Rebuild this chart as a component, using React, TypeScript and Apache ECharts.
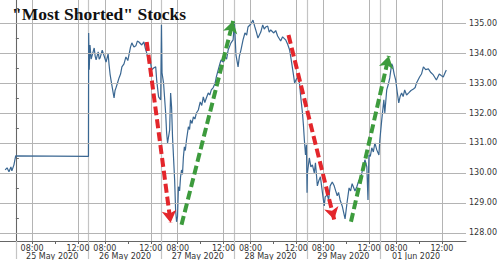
import React, { useEffect, useRef } from "react";
import * as echarts from "echarts";

// ---- session layout (trading-time axis, gaps between sessions removed) ----
const SESSION_OPEN = "06:35";
const SESSION_MINUTES = 381;

const dayNames = ["25 May 2020", "26 May 2020", "27 May 2020", "28 May 2020", "29 May 2020", "01 Jun 2020"];
const gridTimes = ["08:00", "12:00"];
const tickTimes = ["08:00", "10:00", "12:00"];
const dateLabelTime = "09:45";
const axisStart: [number, string] = [-1, "11:33"];
const axisEnd: [number, string] = [5, "14:06"];

const priceTicks = [128, 129, 130, 131, 132, 133, 134, 135];
const priceMinorTicks = [128, 128.5, 129, 129.5, 130, 130.5, 131, 131.5, 132, 132.5, 133, 133.5, 134, 134.5, 135, 135.5];
const priceMin = 127.73;
const priceMax = 135.77;
const lastPrice = 133.43;

// ---- price series, per session: [time, price] ----
const may22: [string, number][] = [
  ["12:00", 130.1], ["12:10", 130.17], ["12:20", 130.04], ["12:30", 130.2], ["12:35", 130.07],
  ["12:46", 130.27], ["12:51", 130.44], ["12:55", 130.57],
];
const may25: [string, number][] = [["06:35", 130.55], ["12:55", 130.55]];
const may26: [string, number][] = [
  ["06:35", 134.67], ["06:38", 133.44], ["06:42", 134.27], ["06:48", 133.8], ["06:54", 133.94], ["07:04", 134.17],
  ["07:09", 133.9], ["07:14", 133.77], ["07:25", 134.04], ["07:30", 133.8], ["07:35", 133.84], ["07:46", 134.1],
  ["07:56", 133.9], ["08:06", 133.7], ["08:17", 133.97], ["08:22", 133.6], ["08:27", 133.3], ["08:32", 133.1],
  ["08:40", 132.8], ["08:48", 132.5], ["08:53", 132.75], ["08:58", 132.84], ["09:06", 133.0], ["09:14", 133.17],
  ["09:22", 133.3], ["09:29", 133.54], ["09:40", 133.64], ["09:50", 133.87], ["10:00", 133.75], ["10:06", 133.94],
  ["10:14", 134.2], ["10:21", 134.34], ["10:32", 134.2], ["10:42", 134.24], ["10:50", 134.4], ["10:58", 134.37],
  ["11:13", 134.27], ["11:24", 134.37], ["11:32", 134.15], ["11:39", 134.0], ["11:50", 133.7], ["12:00", 133.64],
  ["12:05", 133.44], ["12:15", 133.5], ["12:26", 133.54], ["12:31", 133.1], ["12:41", 132.54], ["12:52", 132.44],
];
const may27: [string, number][] = [
  ["06:35", 134.94], ["06:38", 133.34], ["06:46", 133.0], ["06:57", 132.0], ["07:02", 131.34],
  ["07:07", 131.0], ["07:18", 131.44], ["07:23", 132.67], ["07:28", 132.2], ["07:33", 131.2],
  ["07:44", 129.77], ["07:49", 128.77], ["07:54", 128.37], ["07:59", 128.54], ["08:04", 129.54],
  ["08:10", 129.4], ["08:15", 129.87], ["08:20", 130.1], ["08:25", 129.95], ["08:30", 130.54], ["08:35", 130.87],
  ["08:40", 130.75], ["08:46", 131.1], ["08:56", 131.54], ["09:02", 131.45], ["09:07", 131.77], ["09:15", 131.65],
  ["09:22", 131.87], ["09:30", 131.8], ["09:38", 132.0], ["09:48", 132.1], ["09:58", 132.37], ["10:06", 132.25],
  ["10:14", 132.54], ["10:22", 132.35], ["10:30", 132.5], ["10:40", 132.67], ["10:48", 132.6], ["10:56", 132.77],
  ["11:06", 132.85], ["11:16", 133.0], ["11:22", 133.2], ["11:32", 133.44], ["11:42", 133.67], ["11:47", 133.77],
  ["11:58", 133.7], ["12:08", 133.87], ["12:16", 133.8], ["12:24", 134.1], ["12:39", 134.34], ["12:50", 134.44],
];
const may28: [string, number][] = [
  ["06:36", 135.04], ["06:44", 133.94], ["06:55", 133.54], ["07:02", 133.9], ["07:10", 134.1], ["07:21", 134.44],
  ["07:31", 134.67], ["07:40", 134.6], ["07:47", 134.87], ["08:02", 134.97], ["08:13", 135.1], ["08:23", 134.87],
  ["08:31", 134.7], ["08:39", 134.5], ["08:54", 134.7], ["09:04", 134.94], ["09:12", 134.8], ["09:20", 134.87],
  ["09:30", 134.9], ["09:38", 134.7], ["09:46", 134.77], ["10:02", 134.67], ["10:12", 134.75], ["10:22", 134.57],
  ["10:38", 134.4], ["10:48", 134.54], ["11:04", 134.44], ["11:14", 134.3], ["11:25", 134.1], ["11:35", 133.7],
  ["11:45", 133.27], ["11:51", 133.0], ["12:01", 133.14], ["12:11", 133.2], ["12:17", 132.97], ["12:22", 132.6],
  ["12:32", 132.0], ["12:37", 131.6], ["12:42", 131.1], ["12:48", 130.6], ["12:53", 130.94],
];
const may29: [string, number][] = [
  ["06:35", 129.34], ["06:37", 130.0], ["06:47", 130.5], ["06:55", 130.2], ["07:03", 130.27], ["07:13", 130.0],
  ["07:19", 130.34], ["07:29", 129.57], ["07:37", 129.75], ["07:45", 129.87], ["07:55", 129.37], ["08:05", 128.9],
  ["08:10", 129.2], ["08:21", 129.27], ["08:28", 129.1], ["08:36", 129.57], ["08:47", 129.7], ["08:57", 129.57],
  ["09:05", 129.4], ["09:13", 129.24], ["09:20", 129.35], ["09:28", 129.1], ["09:39", 128.9], ["09:54", 128.47],
  ["10:05", 129.04], ["10:15", 129.5], ["10:23", 129.4], ["10:31", 129.64], ["10:46", 129.4], ["10:56", 129.55],
  ["11:07", 129.77], ["11:15", 129.7], ["11:23", 130.04], ["11:30", 130.2], ["11:38", 130.44], ["11:48", 130.2],
  ["11:54", 129.1], ["11:59", 130.6], ["12:06", 130.55], ["12:14", 130.84], ["12:22", 130.7], ["12:30", 131.0],
  ["12:40", 130.77], ["12:51", 130.6],
];
const jun01: [string, number][] = [
  ["06:35", 131.1], ["06:45", 131.77], ["06:56", 132.44], ["07:01", 132.0], ["07:11", 132.77],
  ["07:19", 132.95], ["07:27", 133.17], ["07:37", 133.64], ["07:42", 133.57], ["07:50", 133.3], ["07:58", 133.1],
  ["08:06", 132.7], ["08:14", 132.34], ["08:21", 132.55], ["08:29", 132.67], ["08:37", 132.55], ["08:45", 132.77],
  ["08:55", 132.6], ["09:06", 132.67], ["09:18", 132.75], ["09:31", 132.8], ["09:40", 132.85], ["09:47", 133.0],
  ["10:03", 133.2], ["10:13", 133.3], ["10:23", 133.54], ["10:35", 133.45], ["10:49", 133.47], ["11:02", 133.35],
  ["11:15", 133.27], ["11:31", 133.1], ["11:46", 133.3], ["11:56", 133.25], ["12:07", 133.2], ["12:18", 133.37],
  ["12:23", 133.43],
];
const sessions: [number, [string, number][]][] = [
  [-1, may22], [0, may25], [1, may26], [2, may27], [3, may28], [4, may29], [5, jun01],
];

// ---- annotation arrows: [day, time, price] start -> end ----
type Pt = [number, string, number];
const redArrows: [Pt, Pt][] = [
  [[1, "11:39", 134.37], [2, "07:23", 128.34]],
  [[3, "11:19", 134.6], [4, "08:57", 128.45]],
];
const greenArrows: [Pt, Pt][] = [
  [[2, "08:20", 128.27], [2, "12:50", 135.07]],
  [[4, "10:25", 128.37], [5, "07:22", 133.9]],
];

const mins = (t: string) => {
  const [h, m] = t.split(":").map(Number);
  return h * 60 + m;
};
const OPEN = mins(SESSION_OPEN);
const toX = (day: number, t: string) => day * SESSION_MINUTES + mins(t) - OPEN;
const fmtTime = (v: number) => {
  const within = ((Math.round(v) % SESSION_MINUTES) + SESSION_MINUTES) % SESSION_MINUTES;
  const m = within + OPEN;
  const h = Math.floor(m / 60);
  const mm = m % 60;
  return `${String(h).padStart(2, "0")}:${String(mm).padStart(2, "0")}`;
};

export default function App() {
  const ref = useRef<HTMLDivElement>(null);
  useEffect(() => {
    if (!ref.current) return;
    const chart = echarts.init(ref.current, undefined, { renderer: "svg" });

    const lineData: [number, number][] = [];
    sessions.forEach(([d, arr]) => arr.forEach(([t, p]) => lineData.push([toX(d, t), p])));

    const dayIdx = dayNames.map((_, i) => i);
    const gridX = dayIdx.flatMap((d) => gridTimes.map((t) => toX(d, t)));
    const tickX = dayIdx.flatMap((d) => tickTimes.map((t) => toX(d, t)));
    const boundX = dayIdx.map((d) => d * SESSION_MINUTES);
    const dateX = dayIdx.map((d) => toX(d, dateLabelTime));
    const xMin = toX(axisStart[0], axisStart[1]);
    const xMax = toX(axisEnd[0], axisEnd[1]);

    const gridColor = "#b4b4b4";
    const gridSplit = { show: true, lineStyle: { color: gridColor, type: "solid", width: 1 } };
    const fontBase = { fontSize: 8, fontFamily: "DejaVu Sans", color: "#333" };

    const hGrid: any[] = priceTicks.map((y) => [
      { coord: [xMin, y], lineStyle: { color: gridColor, type: "solid", width: 1 } },
      { coord: [xMax, y] },
    ]);

    const arrowItem = (a: [Pt, Pt], color: string) => [
      { coord: [toX(a[0][0], a[0][1]), a[0][2]], lineStyle: { color, width: 4, type: [9, 4] } },
      { coord: [toX(a[1][0], a[1][1]), a[1][2]] },
    ];

    chart.setOption({
      animation: false,
      backgroundColor: "#ffffff",
      title: {
        text: '"Most Shorted" Stocks',
        left: 12,
        top: 5,
        padding: 0,
        textStyle: { fontFamily: "Liberation Serif", fontWeight: "bold", fontSize: 17.5, color: "#111" },
      },
      grid: { left: 0, right: 30, top: 0, bottom: 18 },
      xAxis: [
        {
          type: "value",
          min: xMin,
          max: xMax,
          position: "bottom",
          axisLine: { show: true, lineStyle: { color: "#666", width: 1 } },
          axisTick: { show: true, customValues: tickX, length: 3, lineStyle: { color: "#666" } },
          axisLabel: { ...fontBase, customValues: gridX, formatter: (v: number) => fmtTime(v), margin: 3 },
          splitLine: { show: false },
        },
        {
          type: "value",
          min: xMin,
          max: xMax,
          position: "bottom",
          axisLine: { show: false },
          axisTick: { show: true, customValues: boundX, length: 18, lineStyle: { color: "#c4c4c4", width: 1.2 } },
          axisLabel: {
            ...fontBase,
            customValues: dateX,
            formatter: (v: number) => dayNames[Math.floor(v / SESSION_MINUTES)] ?? "",
            margin: 11,
          },
          splitLine: { show: true, lineStyle: { color: "#c4c4c4", type: "solid", width: 1.2 } },
        },
        {
          type: "value",
          min: xMin,
          max: xMax,
          position: "top",
          axisLine: { show: false },
          axisTick: { show: false, customValues: gridX },
          axisLabel: { show: false },
          splitLine: gridSplit,
        },
      ],
      yAxis: [
        {
          type: "value",
          position: "right",
          min: priceMin,
          max: priceMax,
          axisLine: { show: true, lineStyle: { color: "#666", width: 1 } },
          axisTick: { show: true, customValues: priceMinorTicks, length: 3, lineStyle: { color: "#666" } },
          axisLabel: { ...fontBase, customValues: priceTicks, formatter: (v: number) => v.toFixed(2), margin: 3 },
          splitLine: { show: false },
        },
        {
          type: "value",
          position: "left",
          min: priceMin,
          max: priceMax,
          axisLine: { show: false },
          axisTick: { show: false, customValues: priceTicks },
          axisLabel: { show: false },
          splitLine: gridSplit,
        },
      ],
      series: [
        {
          type: "line",
          z: 1,
          data: [],
          silent: true,
          markLine: { silent: true, symbol: "none", label: { show: false }, data: hGrid },
        },
        {
          type: "line",
          z: 3,
          data: lineData,
          showSymbol: false,
          lineStyle: { color: "#3a6792", width: 1.2 },
          markLine: {
            silent: true,
            symbol: "none",
            data: [
              {
                yAxis: lastPrice,
                lineStyle: { opacity: 0 },
                label: {
                  show: true,
                  position: "end",
                  distance: 2,
                  formatter: lastPrice.toFixed(2),
                  backgroundColor: "#111",
                  color: "#fff",
                  fontSize: 8,
                  fontFamily: "DejaVu Sans",
                  padding: [1, 2, 1, 2],
                  borderRadius: 2,
                },
              },
            ],
          },
        },
        {
          type: "line",
          z: 5,
          data: [],
          markLine: {
            silent: true,
            symbol: ["none", "arrow"],
            symbolSize: [11, 12],
            label: { show: false },
            data: [
              ...redArrows.map((a) => arrowItem(a, "#e3262b")),
              ...greenArrows.map((a) => arrowItem(a, "#3d9b3d")),
            ],
          },
        },
      ],
    });
    return () => chart.dispose();
  }, []);
  return <div ref={ref} style={{ position: "absolute", left: 0, top: 0, width: 500, height: 260 }} />;
}
